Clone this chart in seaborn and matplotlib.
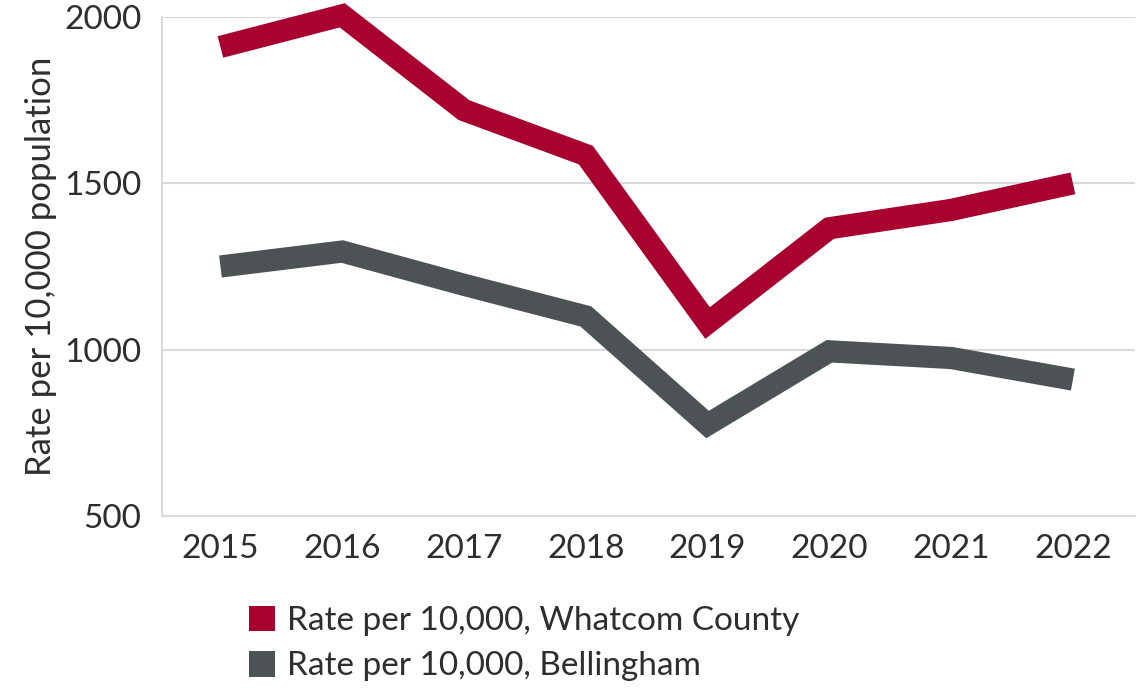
import matplotlib
matplotlib.use("Agg")
import matplotlib.pyplot as plt
from matplotlib.patches import Patch
import seaborn as sns
import pandas as pd

years = [2015, 2016, 2017, 2018, 2019, 2020, 2021, 2022]
whatcom = [1910, 2005, 1720, 1585, 1080, 1365, 1420, 1500]
bellingham = [1250, 1295, 1195, 1100, 775, 995, 975, 910]
series_names = ["Rate per 10,000, Whatcom County", "Rate per 10,000, Bellingham"]
colors = ["#A8002F", "#4D5254"]
yticks = [500, 1000, 1500, 2000]

df = pd.DataFrame({
    "year": years * 2,
    "rate": whatcom + bellingham,
    "series": [series_names[0]] * len(years) + [series_names[1]] * len(years),
})

sns.set_theme(style="white")
plt.rcParams["font.family"] = ["Lato", "DejaVu Sans"]
text_color = "#2E2E2E"

fig = plt.figure(figsize=(11.43, 6.88), dpi=100)
ax = fig.add_axes([162 / 1143, 1 - 516 / 688, (1135 - 162) / 1143, (516 - 17) / 688])

sns.lineplot(data=df, x="year", y="rate", hue="series", palette=colors,
             linewidth=16, ax=ax, legend=False, clip_on=False)
for ln in ax.get_lines():
    ln.set_solid_joinstyle("miter")
    ln.set_solid_capstyle("butt")

ax.set_xlim(2014.52, 2022.51)
ax.set_ylim(500, 2000)
ax.set_xticks(years)
ax.set_xticklabels([str(y) for y in years])
ax.set_yticks(yticks)
ax.grid(axis="y", color="#D9D9D9", linewidth=1.5)
ax.set_axisbelow(True)
for s in ["top", "right"]:
    ax.spines[s].set_visible(False)
for s in ["left", "bottom"]:
    ax.spines[s].set_color("#D9D9D9")
    ax.spines[s].set_linewidth(1.5)
ax.tick_params(axis="both", length=0, labelsize=24, colors=text_color)
ax.tick_params(axis="x", pad=13)
ax.tick_params(axis="y", pad=15)
ax.set_xlabel("")
ax.set_ylabel("Rate per 10,000 population", fontsize=25, color=text_color, labelpad=5)

handles = [Patch(facecolor=c, edgecolor="none") for c in colors]
fig.legend(handles, series_names, loc="upper left",
           bbox_to_anchor=(232 / 1143, 1 - 589 / 688), frameon=False,
           fontsize=24, handlelength=0.8, handleheight=0.8, handletextpad=0.35,
           labelspacing=0.45, borderpad=0, labelcolor=text_color)

fig.savefig("out.png", dpi=100, facecolor="white")
